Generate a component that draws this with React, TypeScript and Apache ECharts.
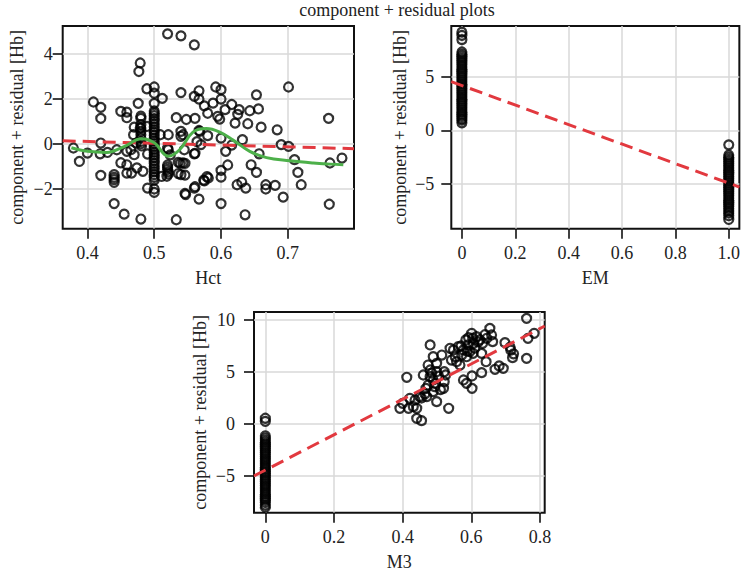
import React, { useEffect, useRef } from "react";
import * as echarts from "echarts";

// ---------- data ----------
const hctPoints: [number, number][] = [
  [0.520, 4.90], [0.540, 4.81], [0.560, 4.41], [0.479, 3.60], [0.477, 3.22], [0.701, 2.53],
  [0.409, 1.86], [0.420, 1.62], [0.420, 1.13], [0.489, 2.45], [0.500, 2.53], [0.500, 2.25],
  [0.512, 2.02], [0.540, 2.28], [0.567, 2.36], [0.560, 2.11], [0.567, 1.99], [0.592, 2.53],
  [0.600, 2.41], [0.600, 1.99], [0.588, 1.81], [0.575, 1.69], [0.616, 1.75], [0.606, 1.52],
  [0.627, 1.52], [0.653, 2.18], [0.656, 1.55], [0.643, 1.47], [0.625, 1.31], [0.580, 1.36],
  [0.476, 1.80], [0.450, 1.44], [0.459, 1.41], [0.459, 1.16], [0.480, 1.23], [0.480, 1.13],
  [0.533, 1.16], [0.548, 1.08], [0.561, 1.13], [0.598, 1.10], [0.595, 1.22], [0.621, 0.92],
  [0.640, 0.89], [0.660, 0.74], [0.684, 0.62], [0.761, 1.13], [0.500, 1.80],
  [0.5, 1.46], [0.5, 1.36], [0.5, 1.25], [0.5, 1.12], [0.5, 1.0], [0.5, 0.88], [0.5, 0.75],
  [0.5, 0.62], [0.5, 0.5], [0.5, 0.38], [0.5, 0.25], [0.5, 0.12], [0.5, 0.0], [0.5, -0.12],
  [0.5, -0.25], [0.5, -0.38], [0.5, -0.5], [0.5, -0.62], [0.5, -0.75], [0.5, -0.88], [0.5, -1.0],
  [0.5, -1.12], [0.5, -1.25], [0.5, -1.38], [0.5, -1.5], [0.5, -1.62], [0.5, -2.02], [0.5, -2.17],
  [0.48, 0.85], [0.48, 0.7], [0.48, 0.55], [0.48, 0.4], [0.48, 0.25], [0.48, 0.1], [0.48, 0.0], [0.481, -0.1],
  [0.52, -0.95], [0.52, -1.05], [0.52, -1.15], [0.521, -1.25], [0.521, -1.35], [0.519, -1.45],
  [0.44, -1.38], [0.44, -1.5], [0.44, -1.6], [0.44, -1.72],
  [0.470, 0.74], [0.479, 0.70], [0.489, 0.77], [0.509, 0.40], [0.521, 0.40], [0.540, 0.55],
  [0.543, 0.40], [0.540, 0.33], [0.568, 0.55], [0.580, 0.36], [0.567, 0.59], [0.632, 0.18],
  [0.600, 0.25], [0.469, 0.40], [0.473, 0.03], [0.420, 0.03], [0.379, -0.19], [0.400, -0.42],
  [0.388, -0.79], [0.419, -0.45], [0.430, -0.39], [0.444, -0.27], [0.459, -0.34], [0.465, -0.27],
  [0.470, -0.49], [0.450, -0.85], [0.459, -0.94], [0.466, -1.31], [0.474, -1.08], [0.483, -1.23],
  [0.420, -1.41], [0.490, -0.46], [0.521, -0.27], [0.536, -0.83], [0.543, -0.86], [0.540, -1.38],
  [0.511, -1.46], [0.545, -0.27], [0.547, -2.27], [0.560, -1.98], [0.567, -2.47], [0.575, -1.66],
  [0.581, -1.53], [0.600, -1.49], [0.600, -1.19], [0.610, -0.95], [0.607, -0.34], [0.616, -0.06],
  [0.600, -2.67], [0.570, -0.04], [0.560, -0.45], [0.645, -0.94], [0.653, -1.28], [0.657, -0.45],
  [0.624, -1.83], [0.631, -1.71], [0.637, -1.98], [0.636, -3.17], [0.667, -1.83], [0.667, -2.02],
  [0.681, -1.86], [0.693, -2.38], [0.690, -0.04], [0.701, -0.12], [0.710, -0.71], [0.715, -1.28],
  [0.720, -1.83], [0.763, -0.86], [0.781, -0.64], [0.762, -2.70], [0.440, -2.67], [0.455, -3.14],
  [0.480, -3.36], [0.533, -3.39], [0.490, -1.98], [0.459, -1.31], [0.524, -0.5], [0.52, -0.21],
  [0.539, -0.88], [0.546, -0.88], [0.536, -1.33], [0.546, -1.4], [0.561, -0.43], [0.564, 0.09],
  [0.546, -2.22], [0.561, -1.92], [0.574, -1.62], [0.579, -1.47]
];
const hctSmoothX = [0.376, 0.4, 0.429, 0.454, 0.481, 0.5, 0.521, 0.538, 0.558, 0.578, 0.598, 0.618, 0.643, 0.668, 0.703, 0.738, 0.763, 0.783];
const hctSmoothY = [-0.18, -0.34, -0.39, -0.14, 0.22, 0.04, -0.56, -0.27, 0.52, 0.68, 0.52, 0.16, -0.34, -0.62, -0.76, -0.86, -0.91, -0.94];
const hctFitX = [0.363, 0.799];
const hctFitY = [0.13, -0.22];

const emAt0 = [9.15, 8.85, 8.45, 7.3, 7.1, 6.9, 6.7, 6.5, 6.3, 6.1, 5.9, 5.7, 5.5, 5.3, 5.1, 4.9, 4.7, 4.5, 4.3, 4.1, 3.9, 3.7, 3.5, 3.3, 3.1, 2.9, 2.7, 2.5, 2.3, 2.1, 1.9, 1.7, 1.5, 1.3, 1.1, 0.95, 0.7];
const emAt1 = [-1.35, -2.3, -2.5, -2.7, -2.9, -3.1, -3.3, -3.5, -3.7, -3.9, -4.1, -4.3, -4.5, -4.7, -4.9, -5.1, -5.3, -5.5, -5.7, -5.9, -6.1, -6.3, -6.5, -6.7, -6.9, -7.1, -7.3, -7.5, -7.7, -7.95, -8.3];
const emFitX = [-0.04, 1.04];
const emFitY = [4.54, -5.28];

const m3At0 = [0.55, 0.25, -1.15, -1.35, -1.55, -1.75, -1.95, -2.15, -2.35, -2.55, -2.75, -2.95, -3.15, -3.35, -3.55, -3.75, -3.95, -4.15, -4.35, -4.55, -4.75, -4.95, -5.15, -5.35, -5.55, -5.75, -5.95, -6.15, -6.35, -6.55, -6.75, -6.95, -7.15, -7.35, -7.55, -7.8, -8.0];
const m3Points: [number, number][] = [
  [0.761, 10.16], [0.783, 8.72], [0.765, 8.24], [0.761, 6.31], [0.698, 7.82], [0.713, 7.40],
  [0.715, 7.10], [0.720, 6.38], [0.723, 6.75], [0.693, 5.35], [0.681, 5.58], [0.669, 5.26],
  [0.654, 9.20], [0.659, 8.56], [0.662, 7.92], [0.645, 8.24], [0.633, 7.76], [0.630, 6.79],
  [0.643, 5.99], [0.630, 4.94], [0.601, 8.72], [0.604, 8.24], [0.606, 7.76], [0.584, 8.08],
  [0.591, 7.60], [0.577, 7.12], [0.572, 6.63], [0.586, 6.47], [0.596, 6.96], [0.562, 7.44],
  [0.548, 7.12], [0.538, 7.28], [0.553, 6.47], [0.542, 6.15], [0.557, 5.99], [0.567, 5.67],
  [0.577, 4.23], [0.586, 3.91], [0.602, 4.62], [0.602, 3.43], [0.514, 6.63], [0.489, 6.47],
  [0.480, 7.60], [0.499, 5.83], [0.474, 5.67], [0.480, 5.19], [0.499, 5.03], [0.521, 5.03],
  [0.460, 4.71], [0.480, 4.55], [0.489, 4.23], [0.521, 4.07], [0.474, 3.75], [0.493, 3.59],
  [0.519, 3.43], [0.468, 3.43], [0.489, 3.11], [0.499, 2.15], [0.470, 2.63], [0.450, 2.63],
  [0.436, 2.31], [0.421, 2.47], [0.412, 4.49], [0.400, 1.99], [0.392, 1.51], [0.417, 1.51],
  [0.441, 1.51], [0.441, 0.54], [0.455, 0.32], [0.534, 1.51], [0.525, 4.71], [0.431, 1.67],
  [0.615, 8.4], [0.62, 7.9], [0.592, 8.3], [0.61, 7.3], [0.57, 7.5], [0.505, 4.6], [0.485, 4.9],
  [0.495, 3.9], [0.51, 3.3], [0.455, 2.5], [0.465, 2.9], [0.625, 8.1], [0.588, 7.0], [0.605, 6.8],
  [0.64, 8.6]
];
const m3FitX = [-0.033, 0.8137];
const m3FitY = [-5.0, 9.42];

const hctXTicks = [0.4, 0.5, 0.6, 0.7];
const hctYTicks = [-2, 0, 2, 4];
const emXTicks = [0, 0.2, 0.4, 0.6, 0.8, 1.0];
const emYTicks = [-5, 0, 5];
const m3XTicks = [0, 0.2, 0.4, 0.6, 0.8];
const m3YTicks = [-5, 0, 5, 10];

const titleText = "component + residual plots";
const yName = "component + residual [Hb]";

// ---------- style ----------
const FONT = '"Liberation Serif", "Times New Roman", serif';
const TEXT = "#222";
const RED = "#e2393f";
const GREEN = "#4db04a";

function fmt(dec: number) {
  return (v: number) => {
    if (Math.abs(v) < 1e-9) return "0";
    const s = v.toFixed(dec);
    return s.replace("-", "\u2212");
  };
}

function xAxis(gridIndex: number, min: number, max: number, ticks: number[], dec: number, name: string) {
  return {
    type: "value", gridIndex, min, max, name, nameLocation: "middle", nameGap: 40,
    position: "bottom",
    nameTextStyle: { fontFamily: FONT, fontSize: 18, color: TEXT },
    axisLine: { show: false, onZero: false },
    axisTick: { show: true, inside: false, length: 10, customValues: ticks, lineStyle: { color: "#000", width: 1.5 } },
    axisLabel: { customValues: ticks, formatter: fmt(dec), margin: 15, fontFamily: FONT, fontSize: 18, color: TEXT },
    splitLine: { show: true, lineStyle: { color: "#d9d9d9", width: 1.5 } },
  };
}
function yAxis(gridIndex: number, min: number, max: number, ticks: number[], margin: number, nameGap: number) {
  return {
    type: "value", gridIndex, min, max, name: yName, nameLocation: "middle", nameGap,
    position: "left",
    nameTextStyle: { fontFamily: FONT, fontSize: 18, color: TEXT },
    axisLine: { show: false, onZero: false },
    axisTick: { show: true, inside: false, length: 10, customValues: ticks, lineStyle: { color: "#000", width: 1.5 } },
    axisLabel: { customValues: ticks, formatter: fmt(0), margin, fontFamily: FONT, fontSize: 18, color: TEXT },
    splitLine: { show: true, lineStyle: { color: "#d9d9d9", width: 1.5 } },
  };
}

const scatterStyle = {
  symbol: "circle", symbolSize: 9,
  itemStyle: { color: "rgba(0,0,0,0)", borderColor: "#000", borderWidth: 2.2 },
};
function fitLine(idx: number, xs: number[], ys: number[]) {
  return {
    type: "line", xAxisIndex: idx, yAxisIndex: idx, data: xs.map((x, i) => [x, ys[i]]),
    symbol: "none", lineStyle: { color: RED, width: 3, type: [13, 7] }, z: 4, silent: true,
  };
}

export default function App() {
  const ref = useRef<HTMLDivElement>(null);
  useEffect(() => {
    if (!ref.current) return;
    const chart = echarts.init(ref.current, undefined, { renderer: "svg" });
    const gridBase = { show: true, borderColor: "#111", borderWidth: 2, backgroundColor: "#fff", containLabel: false };
    chart.setOption({
      animation: false,
      backgroundColor: "#fff",
      textStyle: { fontFamily: FONT },
      graphic: [
        { type: "text", x: 397, y: 1, style: { text: titleText, font: `18px ${FONT}`, fill: TEXT, textAlign: "center", textVerticalAlign: "top" } },
      ],
      grid: [
        { ...gridBase, left: 62.7, top: 26, width: 291.3, height: 202.7 },
        { ...gridBase, left: 451.3, top: 26, width: 290.7, height: 202.7 },
        { ...gridBase, left: 254, top: 312, width: 290.7, height: 200.7 },
      ],
      xAxis: [
        xAxis(0, 0.363, 0.799, hctXTicks, 1, "Hct"),
        xAxis(1, -0.0397, 1.0397, emXTicks, 1, "EM"),
        xAxis(2, -0.033, 0.8137, m3XTicks, 1, "M3"),
      ],
      yAxis: [
        yAxis(0, -3.79, 5.25, hctYTicks, 10, 37),
        yAxis(1, -9.16, 9.72, emYTicks, 17, 42),
        yAxis(2, -8.53, 10.77, m3YTicks, 19, 45),
      ],
      series: [
        { type: "scatter", xAxisIndex: 0, yAxisIndex: 0, data: hctPoints, ...scatterStyle },
        fitLine(0, hctFitX, hctFitY),
        {
          type: "line", xAxisIndex: 0, yAxisIndex: 0, smooth: 0.4, symbol: "none", z: 5,
          data: hctSmoothX.map((x, i) => [x, hctSmoothY[i]]),
          lineStyle: { color: GREEN, width: 3 },
        },
        {
          type: "scatter", xAxisIndex: 1, yAxisIndex: 1,
          data: [...emAt0.map((v) => [0, v]), ...emAt1.map((v) => [1, v])], ...scatterStyle,
        },
        fitLine(1, emFitX, emFitY),
        {
          type: "scatter", xAxisIndex: 2, yAxisIndex: 2,
          data: [...m3At0.map((v) => [0, v]), ...m3Points], ...scatterStyle,
        },
        fitLine(2, m3FitX, m3FitY),
      ],
    });
    return () => chart.dispose();
  }, []);
  return <div ref={ref} style={{ position: "fixed", left: 0, top: 0, width: 743, height: 573 }} />;
}
